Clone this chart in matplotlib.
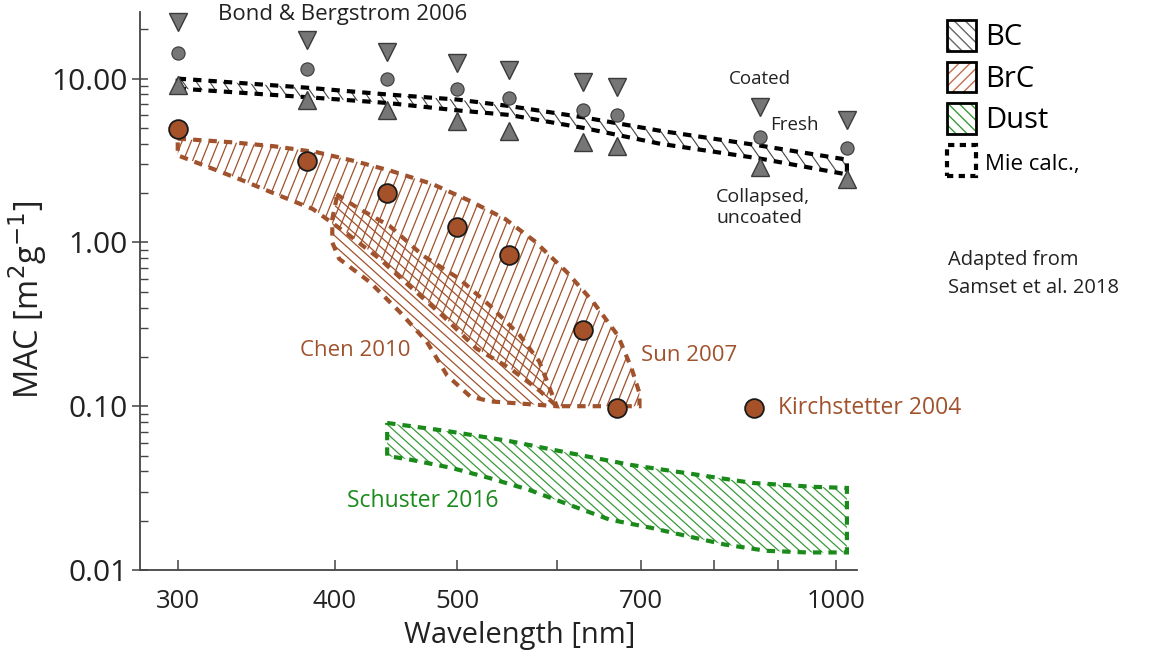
import matplotlib
matplotlib.use('Agg')
import matplotlib.pyplot as plt
import numpy as np
from matplotlib.patches import Polygon, Patch
from matplotlib.collections import LineCollection
from matplotlib.ticker import FixedLocator, NullFormatter, FuncFormatter, LogLocator

plt.rcParams['font.family'] = ['Open Sans', 'DejaVu Sans']

# ---------------- data ----------------
# Bond & Bergstrom 2006 (BC)
wl_bc = [300, 380, 440, 500, 550, 630, 670, 870, 1020]
bc_coated = [22.2, 17.3, 14.6, 12.5, 11.3, 9.5, 8.9, 6.7, 5.6]
bc_fresh = [14.4, 11.5, 9.9, 8.6, 7.6, 6.4, 6.0, 4.4, 3.75]
bc_collapsed = [9.2, 7.35, 6.4, 5.5, 4.8, 4.1, 3.85, 2.9, 2.45]

# BC Mie calculation band
wl_mie = [300, 380, 440, 500, 550, 630, 725, 870, 1020]
mie_top = [10.0, 8.8, 8.0, 7.45, 6.8, 5.8, 4.8, 3.9, 3.2]
mie_bot = [8.7, 7.7, 7.1, 6.4, 6.0, 5.0, 4.0, 3.25, 2.6]

# Kirchstetter 2004 (BrC)
wl_kirch = [300, 380, 440, 500, 550, 630, 670, 860]
mac_kirch = [4.9, 3.15, 2.0, 1.25, 0.84, 0.29, 0.097, 0.097]

# Sun 2007 (BrC) region
sun_upper_wl = [300, 332, 358, 387, 415, 444, 478, 512, 546, 576, 611, 641, 671, 688, 698, 698]
sun_upper = [4.3, 4.08, 3.86, 3.55, 3.13, 2.72, 2.27, 1.79, 1.39, 1.02, 0.66, 0.435, 0.27, 0.17, 0.12, 0.1]
sun_lower_wl = [300, 313, 336, 359, 384, 409, 434, 458, 487, 518, 551, 581, 600]
sun_lower = [3.4, 3.0, 2.43, 1.97, 1.60, 1.13, 0.794, 0.544, 0.357, 0.225, 0.17, 0.125, 0.1]

# Chen 2010 (BrC) region
chen_upper_wl = [401, 416, 442, 470, 502, 531, 561, 581, 600]
chen_upper = [1.97, 1.64, 1.26, 0.828, 0.60, 0.411, 0.27, 0.188, 0.1]
chen_lower_wl = [401, 398, 398, 403, 426, 450, 473, 491, 512, 531, 600]
chen_lower = [1.83, 1.39, 1.0, 0.794, 0.575, 0.378, 0.248, 0.154, 0.115, 0.107, 0.1]

# Schuster 2016 (Dust) region
dust_upper_wl = [440, 491, 550, 614, 687, 768, 858, 959, 1020]
dust_upper = [0.079, 0.0705, 0.0613, 0.0518, 0.0438, 0.0386, 0.034, 0.0322, 0.0317]
dust_lower_wl = [440, 460, 495, 530, 570, 614, 661, 713, 759, 816, 880, 948, 1020]
dust_lower = [0.0497, 0.047, 0.042, 0.0365, 0.0309, 0.025, 0.0203, 0.0181, 0.0162, 0.0143, 0.0131, 0.0128, 0.0128]

x_major = [300, 400, 500, 700, 1000]
x_minor = [600, 800, 900]

legend_labels = ['BC', 'BrC', 'Dust', 'Mie calc.,']

# ---------------- styles ----------------
BROWN = '#A0522D'
GREEN = '#1A8A1A'
GREEN_H = '#3A9A3A'
GRAY = '#767676'
TXT = '#222222'
DASH = (0, (2.0, 1.7))

fig = plt.figure(figsize=(11.52, 6.59), dpi=100)
AX_W, AX_H = 717, 558
ax = fig.add_axes([140 / 1152, 89 / 659, AX_W / 1152, AX_H / 659])
ax.set_xscale('log')
ax.set_yscale('log')
ax.set_xlim(280, 1039)
ax.set_ylim(0.01, 25.5)


def region(xu, yu, xl, yl, color, hatch_color, angle, spacing, hlw=0.9, lw=3.0):
    xs = list(xu) + list(xl)[::-1]
    ys = list(yu) + list(yl)[::-1]
    poly = Polygon(np.column_stack([xs, ys]), closed=True, fill=False,
                   edgecolor=color, linestyle=DASH, linewidth=lw, zorder=3)
    poly.set_capstyle('butt')
    ax.add_patch(poly)
    th = np.deg2rad(angle)
    d = np.array([np.cos(th), np.sin(th)])
    n = np.array([-np.sin(th), np.cos(th)])
    L = np.hypot(AX_W, AX_H)
    c = np.array([AX_W / 2, AX_H / 2])
    segs = []
    for k in np.arange(-L / spacing, L / spacing + 1):
        p = c + k * spacing * n
        a, b = p - L * d, p + L * d
        segs.append([(a[0] / AX_W, a[1] / AX_H), (b[0] / AX_W, b[1] / AX_H)])
    lc = LineCollection(segs, colors=hatch_color, linewidths=hlw,
                        transform=ax.transAxes, zorder=2)
    ax.add_collection(lc, autolim=False)
    lc.set_clip_path(poly)
    return poly


region(sun_upper_wl, sun_upper, sun_lower_wl, sun_lower, BROWN, BROWN, 68, 8.5, hlw=0.9)
region(chen_upper_wl, chen_upper, chen_lower_wl, chen_lower, BROWN, BROWN, -42, 7.5, hlw=0.9)
region(dust_upper_wl, dust_upper, dust_lower_wl, dust_lower, GREEN, GREEN_H, -42, 7.0, hlw=0.9)
region(wl_mie, mie_top, wl_mie, mie_bot, 'black', '#444444', -55, 11, hlw=0.8, lw=3.0)

# markers
ax.plot(wl_bc, bc_coated, linestyle='none', marker='v', ms=13, mfc=GRAY, mec='#3a3a3a', mew=1.0, zorder=5)
ax.plot(wl_bc, bc_fresh, linestyle='none', marker='o', ms=9.5, mfc=GRAY, mec='#3a3a3a', mew=0.8, zorder=5)
ax.plot(wl_bc, bc_collapsed, linestyle='none', marker='^', ms=13, mfc=GRAY, mec='#3a3a3a', mew=1.0, zorder=5)
ax.plot(wl_kirch, mac_kirch, linestyle='none', marker='o', ms=13.5, mfc='#A5522A', mec='#1a1a1a', mew=1.3, zorder=6)

# annotations
ax.text(323, 24.5, 'Bond & Bergstrom 2006', fontsize=16, color=TXT, ha='left', va='center')
ax.text(870, 9.9, 'Coated', fontsize=13.5, color=TXT, ha='center', va='center')
ax.text(886, 5.18, 'Fresh', fontsize=13.5, color=TXT, ha='left', va='center')
ax.text(803, 1.64, 'Collapsed,\nuncoated', fontsize=14, color=TXT, ha='left', va='center',
        linespacing=1.2)
ax.text(415, 0.219, 'Chen 2010', fontsize=16, color=BROWN, ha='center', va='center')
ax.text(700, 0.204, 'Sun 2007', fontsize=16, color=BROWN, ha='left', va='center')
ax.text(899, 0.097, 'Kirchstetter 2004', fontsize=16.5, color=BROWN, ha='left', va='center')
ax.text(409, 0.0265, 'Schuster 2016', fontsize=16.5, color=GREEN, ha='left', va='center')
fig.text(948 / 1152, 1 - 274 / 659, 'Adapted from\nSamset et al. 2018', fontsize=14.5,
         color=TXT, ha='left', va='center', linespacing=1.55)

# axes styling
for s in ['top', 'right']:
    ax.spines[s].set_visible(False)
for s in ['left', 'bottom']:
    ax.spines[s].set_color('#444444')
    ax.spines[s].set_linewidth(1.3)

ax.xaxis.set_major_locator(FixedLocator(x_major))
ax.xaxis.set_minor_locator(FixedLocator(x_minor))
ax.xaxis.set_major_formatter(FuncFormatter(lambda v, p: f'{int(round(v))}'))
ax.xaxis.set_minor_formatter(NullFormatter())
ax.yaxis.set_major_locator(LogLocator(base=10, numticks=10))
ax.yaxis.set_minor_locator(LogLocator(base=10, subs=np.arange(2, 10), numticks=20))
ax.yaxis.set_major_formatter(FuncFormatter(lambda v, p: f'{v:.2f}'))
ax.yaxis.set_minor_formatter(NullFormatter())
ax.tick_params(axis='x', which='both', direction='in', length=7, width=1.1, color='#444444',
               labelsize=18.5, pad=14, labelcolor=TXT)
ax.tick_params(axis='y', which='major', direction='inout', length=12, width=1.1, color='#444444',
               labelsize=21.5, pad=3, labelcolor=TXT)
ax.tick_params(axis='y', which='minor', direction='in', length=6, width=1.0, color='#444444')

ax.set_xlabel('Wavelength [nm]', fontsize=21, color=TXT)
ax.xaxis.set_label_coords(0.53, -0.117)
ax.xaxis.label.set_va('center')
ax.set_ylabel('MAC [m$^2$g$^{-1}$]', fontsize=23.5, color=TXT)
ax.yaxis.set_label_coords(-0.157, 0.485)
ax.yaxis.label.set_va('center')

# legend
HATCH_B = '\\\\\\'
HATCH_F = '///'
handles = [
    (Patch(facecolor='white', edgecolor='#666666', hatch=HATCH_B, linewidth=0),
     Patch(facecolor='none', edgecolor='black', linewidth=2)),
    (Patch(facecolor='white', edgecolor='#C07050', hatch=HATCH_F, linewidth=0),
     Patch(facecolor='none', edgecolor='black', linewidth=2)),
    (Patch(facecolor='white', edgecolor='#3A9A3A', hatch=HATCH_B, linewidth=0),
     Patch(facecolor='none', edgecolor='black', linewidth=2)),
    Patch(facecolor='none', edgecolor='black', linestyle=(0, (1.5, 1.3)), linewidth=3),
]
leg = fig.legend(handles, legend_labels, loc='upper left', bbox_to_anchor=(947 / 1152, 1 - 20 / 659),
                 frameon=False, fontsize=21, handlelength=1.0, handleheight=1.25,
                 handletextpad=0.3, labelspacing=0.32, borderaxespad=0, borderpad=0)
leg.get_texts()[3].set_fontsize(16)

fig.savefig('out.png', dpi=100)
